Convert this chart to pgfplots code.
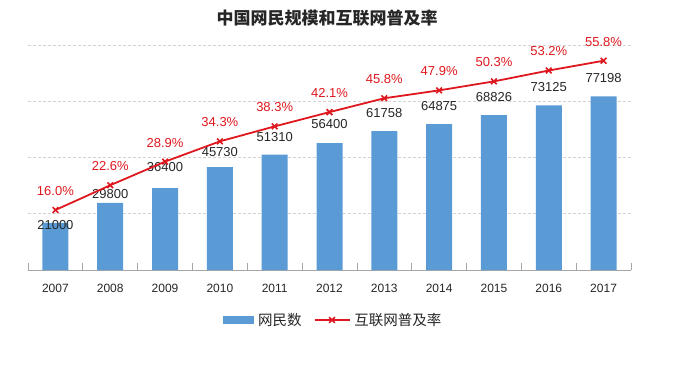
\documentclass[border=0pt]{standalone}
\usepackage{fontspec}
\setmainfont{Liberation Sans}
\newfontfamily\cjk{Noto Sans CJK SC}
\usepackage{pgfplots}
\pgfplotsset{compat=1.18}
\usepackage{pgfplotstable}
\definecolor{barblue}{RGB}{91,155,213}
\definecolor{lred}{RGB}{222,24,30}

\pgfplotstableread{
x v off pct
0 21000 -2 16.0
1 29800 9 22.6
2 36400 21 28.9
3 45730 15 34.3
4 51310 18 38.3
5 56400 19 42.1
6 61758 18 45.8
7 64875 18 47.9
8 68826 18 50.3
9 73125 18 53.2
10 77198 18 55.8
}\data

\begin{document}
\begin{tikzpicture}[x=1pt,y=1pt]
\useasboundingbox (0,0) rectangle (693,373);

\node[font=\cjk\bfseries\fontsize{17}{17}\selectfont, text=black!85] at (327,355) {中国网民规模和互联网普及率};

\begin{axis}[
  at={(28pt,103pt)}, anchor=south west,
  scale only axis, width=603pt, height=225pt,
  xmin=-0.5, xmax=10.5, ymin=0, ymax=100000,
  axis x line*=bottom, axis y line*=left,
  x axis line style={-, draw=gray!70, line width=0.8pt},
  y axis line style={draw=none},
  xtick={0,...,10},
  xticklabels={2007,2008,2009,2010,2011,2012,2013,2014,2015,2016,2017},
  major x tick style={draw=none},
  minor xtick={-0.5,0.5,...,10.5},
  minor x tick style={draw=gray!70, line width=0.8pt},
  minor tick length=7pt,
  tick align=inside,
  xticklabel style={font=\fontsize{12}{12}\selectfont, text=black!85, yshift=-11pt},
  ytick={25000,50000,75000,100000},
  yticklabels={},
  major y tick style={draw=none},
  ymajorgrids,
  grid style={gray!35, dash pattern=on 3pt off 2pt, line width=0.6pt},
  scaled y ticks=false,
]
\addplot[ybar, bar width=26pt, fill=barblue, draw=none,
  point meta=explicit symbolic,
  nodes near coords,
  nodes near coords align={center},
  visualization depends on={\thisrow{off} \as \myoff},
  every node near coord/.append style={anchor=center, yshift=\myoff pt, font=\fontsize{13}{13}\selectfont, text=black!85}
] table[x=x, y=v, meta=v] {\data};
\end{axis}

\begin{axis}[
  at={(28pt,103pt)}, anchor=south west,
  scale only axis, width=603pt, height=225pt,
  xmin=-0.5, xmax=10.5, ymin=0, ymax=60,
  hide axis,
  clip=false,
  legend style={at={(0.506,-0.222)}, anchor=center, draw=none, fill=none,
    font=\cjk\fontsize{14.5}{14.5}\selectfont, text=black!85,
    /tikz/every even column/.append style={column sep=10pt}},
  legend columns=-1,
]
\addlegendimage{legend image code/.code={\fill[barblue] (0pt,-3.5pt) rectangle (30pt,3.5pt);}}
\addlegendentry{\hspace{3pt}网民数}
\addplot[lred, line width=1.8pt, mark=x, mark size=4pt, mark options={line width=1.6pt},
  point meta=explicit symbolic,
  nodes near coords={\pgfplotspointmeta\%},
  nodes near coords align={center},
  every node near coord/.append style={anchor=center, yshift=19pt, font=\fontsize{13}{13}\selectfont, text=lred},
  legend image code/.code={\draw[mark repeat=2,mark phase=2] plot coordinates {(0pt,0pt) (17.5pt,0pt) (35pt,0pt)};}
] table[x=x, y=pct, meta=pct] {\data};
\addlegendentry{\hspace{2pt}互联网普及率}
\end{axis}
\end{tikzpicture}
\end{document}
